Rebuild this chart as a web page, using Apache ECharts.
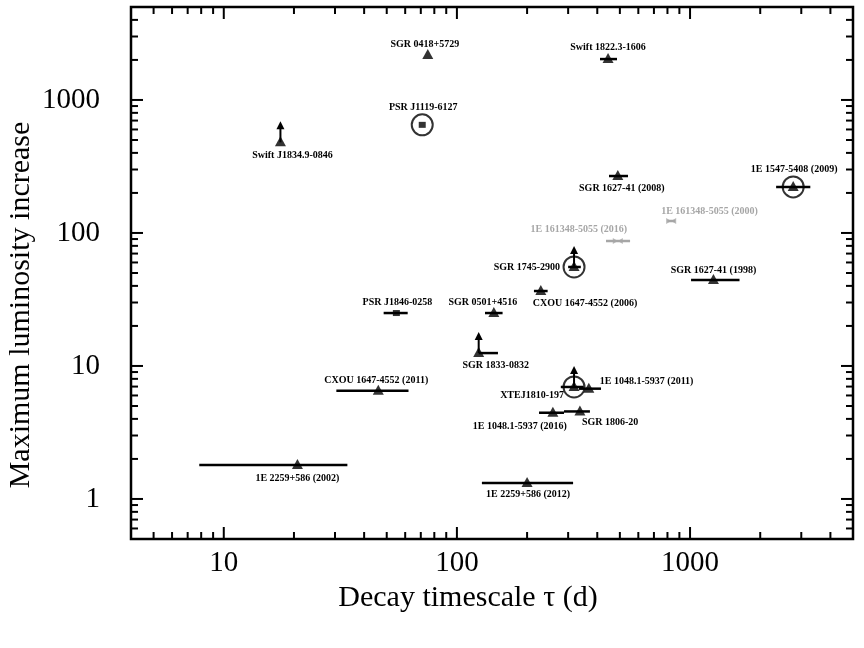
<!DOCTYPE html>
<html>
<head>
<meta charset="utf-8">
<script src="https://cdn.jsdelivr.net/npm/echarts@6/dist/echarts.min.js"></script>
<style>
    html, body { margin: 0; padding: 0; background: #fff; }
    #chart { width: 864px; height: 648px; }
</style>
</head>
<body>
<div id="chart"></div>
<script>
// magnetar outbursts: decay timescale vs peak luminosity increase
const sources = [
    'SGR 0418+5729', 'Swift 1822.3-1606', 'PSR J1119-6127', 'Swift J1834.9-0846',
    'SGR 1627-41 (2008)', '1E 1547-5408 (2009)', '1E 161348-5055 (2000)', '1E 161348-5055 (2016)',
    'SGR 1745-2900', 'SGR 1627-41 (1998)', 'CXOU 1647-4552 (2006)', 'PSR J1846-0258',
    'SGR 0501+4516', 'SGR 1833-0832', 'CXOU 1647-4552 (2011)', 'XTEJ1810-197',
    '1E 1048.1-5937 (2011)', '1E 1048.1-5937 (2016)', 'SGR 1806-20', '1E 2259+586 (2002)',
    '1E 2259+586 (2012)'
];
const tau =     [75, 445, 71, 17.5, 490, 2770, 830, 490, 318, 1260, 229, 55, 144, 124, 46, 318, 368, 258, 337, 20.7, 200];
const tauLow =  [75, 411, 71, 17.5, 449, 2340, 800, 436, 300, 1010, 214, 48.5, 132, 124, 30.4, 279, 334, 225, 288, 7.85, 128];
const tauHigh = [75, 486, 71, 17.5, 542, 3280, 862, 553, 340, 1630, 245, 61.5, 157, 150, 62, 350, 415, 288, 372, 33.9, 315];
const lumMax =  [2180, 2030, 650, 480, 268, 222, 123, 87, 55.5, 44.3, 36.6, 25, 25, 12.5, 6.5, 6.95, 6.75, 4.45, 4.55, 1.80, 1.32];

const lowerLimits = ['Swift J1834.9-0846', 'SGR 1745-2900', 'SGR 1833-0832', 'XTEJ1810-197'];
const circled = ['PSR J1119-6127', '1E 1547-5408 (2009)', 'SGR 1745-2900', 'XTEJ1810-197'];
const squares = ['PSR J1119-6127', 'PSR J1846-0258'];
const greyed = ['1E 161348-5055 (2000)', '1E 161348-5055 (2016)'];

// axis ticks
const xMajorTicks = [10, 100, 1000];
const xMinorTicks = [5, 6, 7, 8, 9, 20, 30, 40, 50, 60, 70, 80, 90, 200, 300, 400, 500, 600, 700, 800, 900, 2000, 3000, 4000];
const yMajorTicks = [1, 10, 100, 1000];
const yMinorTicks = [0.6, 0.7, 0.8, 0.9, 2, 3, 4, 5, 6, 7, 8, 9, 20, 30, 40, 50, 60, 70, 80, 90,
    200, 300, 400, 500, 600, 700, 800, 900, 2000, 3000, 4000];

const X_MIN = 4, X_MAX = 5000, Y_MIN = 0.5, Y_MAX = 5000;

// label placement relative to the marker: [dx, dy, align]
const labelPlacement = {
    'SGR 0418+5729': [-3, -11, 'center'],
    'Swift 1822.3-1606': [0, -12, 'center'],
    'PSR J1119-6127': [1, -17, 'center'],
    'Swift J1834.9-0846': [12, 13, 'center'],
    'SGR 1627-41 (2008)': [4, 12, 'center'],
    '1E 1547-5408 (2009)': [1, -17, 'center'],
    '1E 161348-5055 (2000)': [-10, -10, 'left'],
    '1E 161348-5055 (2016)': [-39, -12, 'center'],
    'SGR 1745-2900': [-14, 0, 'right'],
    'SGR 1627-41 (1998)': [0, -10, 'center'],
    'CXOU 1647-4552 (2006)': [-8, 12, 'left'],
    'PSR J1846-0258': [1, -11, 'center'],
    'SGR 0501+4516': [-11, -11, 'center'],
    'SGR 1833-0832': [17, 12, 'center'],
    'CXOU 1647-4552 (2011)': [-2, -10, 'center'],
    'XTEJ1810-197': [-10, 8, 'right'],
    '1E 1048.1-5937 (2011)': [11, -7, 'left'],
    '1E 1048.1-5937 (2016)': [14, 14, 'right'],
    'SGR 1806-20': [2, 11, 'left'],
    '1E 2259+586 (2002)': [0, 13, 'center'],
    '1E 2259+586 (2012)': [1, 11, 'center']
};

const GREY = '#a6a6a6';
const serif = '"Liberation Serif", "DejaVu Serif", serif';

const isGrey = name => greyed.indexOf(name) >= 0;
const points = sources.map((name, i) => ({ name, value: [tau[i], lumMax[i], tauLow[i], tauHigh[i]] }));

const isDecade = v => Math.abs(Math.log10(v) - Math.round(Math.log10(v))) < 1e-6;

const chartDom = document.getElementById('chart');
const myChart = echarts.init(chartDom);

const tickSeries = (ticks, major, dir) => ({
    type: 'custom',
    silent: true,
    clip: false,
    data: ticks.map(v => dir === 'x' ? [v, Y_MIN] : [X_MIN, v]),
    renderItem: (params, api) => {
        const len = major ? 12 : 7;
        const v = api.value(dir === 'x' ? 0 : 1);
        let a, b;
        if (dir === 'x') {
            a = api.coord([v, Y_MIN]);
            b = api.coord([v, Y_MAX]);
            return {
                type: 'group',
                children: [
                    { type: 'line', shape: { x1: a[0], y1: a[1], x2: a[0], y2: a[1] - len }, style: { stroke: '#000', lineWidth: 2 } },
                    { type: 'line', shape: { x1: b[0], y1: b[1], x2: b[0], y2: b[1] + len }, style: { stroke: '#000', lineWidth: 2 } }
                ]
            };
        }
        a = api.coord([X_MIN, v]);
        b = api.coord([X_MAX, v]);
        return {
            type: 'group',
            children: [
                { type: 'line', shape: { x1: a[0], y1: a[1], x2: a[0] + len, y2: a[1] }, style: { stroke: '#000', lineWidth: 2 } },
                { type: 'line', shape: { x1: b[0], y1: b[1], x2: b[0] - len, y2: b[1] }, style: { stroke: '#000', lineWidth: 2 } }
            ]
        };
    },
    z: 5
});

const errorBarSeries = (list, color) => ({
    type: 'custom',
    silent: true,
    data: list.map(p => p.value),
    renderItem: (params, api) => {
        const lo = api.coord([api.value(2), api.value(1)]);
        const hi = api.coord([api.value(3), api.value(1)]);
        return {
            type: 'line',
            shape: { x1: lo[0], y1: lo[1], x2: hi[0], y2: hi[1] },
            style: { stroke: color, lineWidth: 2.5 }
        };
    },
    z: 2
});

let option = {
    animation: false,
    backgroundColor: '#fff',
    grid: {
        left: 131,
        right: 11,
        top: 7,
        bottom: 109,
        outerBoundsMode: 'none',
        show: true,
        borderColor: '#000',
        borderWidth: 2.5,
        backgroundColor: 'transparent'
    },
    xAxis: {
        type: 'log',
        logBase: 10,
        min: X_MIN,
        max: X_MAX,
        name: 'Decay timescale \u03c4 (d)',
        nameLocation: 'middle',
        nameGap: 43,
        nameTextStyle: { fontFamily: serif, fontSize: 30, color: '#000', padding: [0, 48, 0, 0] },
        axisLine: { show: false },
        axisTick: { show: false },
        splitLine: { show: false },
        axisLabel: {
            margin: 10,
            fontFamily: serif,
            fontSize: 29,
            color: '#000',
            formatter: v => isDecade(v) ? String(Math.round(v)) : ''
        }
    },
    yAxis: {
        type: 'log',
        logBase: 10,
        min: Y_MIN,
        max: Y_MAX,
        name: 'Maximum luminosity increase',
        nameLocation: 'middle',
        nameGap: 95,
        nameMoveOverlap: false,
        nameTextStyle: { fontFamily: serif, fontSize: 30, color: '#000', padding: [0, 64, 0, 0] },
        axisLine: { show: false },
        axisTick: { show: false },
        splitLine: { show: false },
        axisLabel: {
            margin: 31,
            fontFamily: serif,
            fontSize: 29,
            color: '#000',
            formatter: v => isDecade(v) ? String(Math.round(v)) : ''
        }
    },
    series: [
        tickSeries(xMajorTicks, true, 'x'),
        tickSeries(xMinorTicks, false, 'x'),
        tickSeries(yMajorTicks, true, 'y'),
        tickSeries(yMinorTicks, false, 'y'),
        errorBarSeries(points.filter(p => !isGrey(p.name)), '#000'),
        errorBarSeries(points.filter(p => isGrey(p.name)), GREY),
        {
            // lower-limit arrows
            type: 'custom',
            silent: true,
            data: points.filter(p => lowerLimits.indexOf(p.name) >= 0).map(p => p.value),
            renderItem: (params, api) => {
                const p = api.coord([api.value(0), api.value(1)]);
                return {
                    type: 'group',
                    children: [
                        { type: 'line', shape: { x1: p[0], y1: p[1], x2: p[0], y2: p[1] - 15 }, style: { stroke: '#000', lineWidth: 2 } },
                        { type: 'polygon', shape: { points: [[p[0] - 4, p[1] - 13], [p[0] + 4, p[1] - 13], [p[0], p[1] - 21]] }, style: { fill: '#000' } }
                    ]
                };
            },
            z: 3
        },
        {
            name: 'triangles',
            type: 'scatter',
            symbol: 'triangle',
            symbolSize: [11, 10],
            symbolOffset: [0, -1],
            itemStyle: { color: '#000' },
            data: points.filter(p => squares.indexOf(p.name) < 0 && !isGrey(p.name)).map(p => p.value.slice(0, 2)),
            z: 4
        },
        {
            name: 'squares',
            type: 'scatter',
            symbol: 'rect',
            symbolSize: [7, 6],
            itemStyle: { color: '#000' },
            data: points.filter(p => squares.indexOf(p.name) >= 0).map(p => p.value.slice(0, 2)),
            z: 4
        },
        {
            name: 'grey',
            type: 'scatter',
            symbol: 'path://M0,0L10,5L0,10ZM20,0L10,5L20,10Z',
            symbolSize: [10, 6],
            itemStyle: { color: GREY },
            data: points.filter(p => isGrey(p.name)).map(p => p.value.slice(0, 2)),
            z: 4
        },
        {
            name: 'circles',
            type: 'scatter',
            symbol: 'circle',
            symbolSize: 21,
            itemStyle: { color: 'rgba(0,0,0,0)', borderColor: '#000', borderWidth: 2 },
            data: points.filter(p => circled.indexOf(p.name) >= 0).map(p => p.value.slice(0, 2)),
            z: 4
        },
        {
            // source names
            type: 'custom',
            silent: true,
            data: points.map(p => p.value),
            renderItem: (params, api) => {
                const name = sources[params.dataIndex];
                const place = labelPlacement[name];
                const p = api.coord([api.value(0), api.value(1)]);
                return {
                    type: 'text',
                    x: p[0] + place[0],
                    y: p[1] + place[1],
                    style: {
                        text: name,
                        align: place[2],
                        verticalAlign: 'middle',
                        fontFamily: serif,
                        fontWeight: 'bold',
                        fontSize: 10,
                        fill: isGrey(name) ? GREY : '#000'
                    }
                };
            },
            z: 6
        }
    ]
};

option && myChart.setOption(option);
</script>
</body>
</html>
